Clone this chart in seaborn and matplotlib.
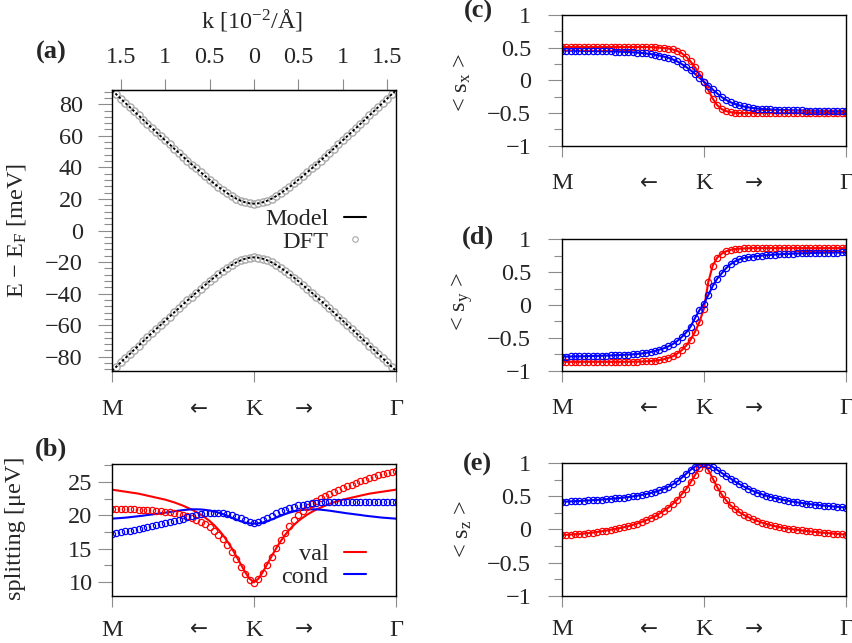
import numpy as np
import matplotlib.pyplot as plt
import seaborn as sns
from matplotlib.ticker import MultipleLocator, NullLocator, FuncFormatter
from matplotlib.lines import Line2D

sns.set_style("ticks")
plt.rcParams['font.family'] = ['Liberation Serif', 'DejaVu Serif']
plt.rcParams['mathtext.fontset'] = 'custom'
plt.rcParams['mathtext.rm'] = 'Liberation Serif'
plt.rcParams['mathtext.it'] = 'Liberation Serif:italic'
plt.rcParams['mathtext.bf'] = 'Liberation Serif:bold'
FS = 17.5
plt.rcParams['font.size'] = FS

# k path M <- K -> Gamma, in 10^-2 / A
k = np.round(np.linspace(-1.6, 1.6, 65), 3)

# (a) band energies [meV]
E_cond = [88.8, 86.2, 83.5, 80.8, 78.2, 75.5, 72.9, 70.2, 67.6, 64.9, 62.3, 59.7, 57.1, 54.5, 51.9, 49.4,
          46.8, 44.3, 41.8, 39.3, 36.9, 34.5, 32.1, 29.8, 27.6, 25.6, 23.6, 21.8, 20.2, 18.9, 17.9, 17.2,
          17.0,
          17.2, 17.9, 18.9, 20.2, 21.8, 23.6, 25.6, 27.6, 29.8, 32.1, 34.5, 36.9, 39.3, 41.8, 44.3, 46.8,
          49.4, 51.9, 54.5, 57.1, 59.7, 62.3, 64.9, 67.6, 70.2, 72.9, 75.5, 78.2, 80.8, 83.5, 86.2, 88.8]
E_val = [-88.8, -86.2, -83.5, -80.8, -78.2, -75.5, -72.9, -70.2, -67.6, -64.9, -62.3, -59.7, -57.1, -54.5,
         -51.9, -49.4, -46.8, -44.3, -41.8, -39.3, -36.9, -34.5, -32.1, -29.8, -27.6, -25.6, -23.6, -21.8,
         -20.2, -18.9, -17.9, -17.2, -17.0,
         -17.2, -17.9, -18.9, -20.2, -21.8, -23.6, -25.6, -27.6, -29.8, -32.1, -34.5, -36.9, -39.3, -41.8,
         -44.3, -46.8, -49.4, -51.9, -54.5, -57.1, -59.7, -62.3, -64.9, -67.6, -70.2, -72.9, -75.5, -78.2,
         -80.8, -83.5, -86.2, -88.8]

# (b) splitting [ueV]
split_val_model = [23.85, 23.75, 23.65, 23.55, 23.45, 23.35, 23.25, 23.1, 22.95, 22.8, 22.65, 22.5, 22.35,
                   22.15, 21.95, 21.7, 21.45, 21.15, 20.85, 20.5, 20.1, 19.65, 19.15, 18.55, 17.85, 17.05,
                   16.1, 15.05, 13.9, 12.7, 11.5, 10.5, 9.95,
                   10.5, 11.5, 12.7, 13.9, 15.05, 16.1, 17.05, 17.85, 18.55, 19.15, 19.65, 20.1, 20.5, 20.85,
                   21.15, 21.45, 21.7, 21.95, 22.15, 22.35, 22.5, 22.65, 22.8, 22.95, 23.1, 23.25, 23.35,
                   23.45, 23.55, 23.65, 23.75, 23.85]
split_cond_model = [19.5, 19.55, 19.6, 19.65, 19.72, 19.8, 19.87, 19.95, 20.05, 20.13, 20.22, 20.3, 20.4,
                    20.5, 20.6, 20.7, 20.78, 20.85, 20.9, 20.9, 20.88, 20.82, 20.72, 20.58, 20.4, 20.18,
                    19.92, 19.65, 19.38, 19.12, 18.92, 18.8, 18.75,
                    18.8, 18.92, 19.12, 19.38, 19.65, 19.92, 20.18, 20.4, 20.58, 20.72, 20.82, 20.88, 20.9,
                    20.9, 20.85, 20.78, 20.7, 20.6, 20.5, 20.4, 20.3, 20.22, 20.13, 20.05, 19.95, 19.87,
                    19.8, 19.72, 19.65, 19.6, 19.55, 19.5]
split_val_dft = [21.0, 21.0, 20.95, 20.95, 20.9, 20.9, 20.85, 20.85, 20.8, 20.75, 20.7, 20.65, 20.55, 20.45,
                 20.35, 20.2, 20.05, 19.85, 19.6, 19.35, 19.0, 18.65, 18.2, 17.7, 17.1, 16.4, 15.5, 14.5,
                 13.4, 12.3, 11.2, 10.3, 9.9, 10.4, 11.4, 12.6, 13.8, 15.1, 16.3, 17.4, 18.4, 19.3, 20.05,
                 20.7, 21.25, 21.75, 22.15, 22.55, 22.9, 23.2, 23.5, 23.8, 24.1, 24.35, 24.6, 24.85, 25.1,
                 25.35, 25.6, 25.8, 26.0, 26.2, 26.4, 26.55, 26.7]
split_cond_dft = [17.15, 17.3, 17.45, 17.6, 17.72, 17.85, 17.97, 18.1, 18.25, 18.4, 18.55, 18.7, 18.85, 19.0,
                  19.15, 19.35, 19.5, 19.7, 19.85, 20.0, 20.15, 20.3, 20.38, 20.42, 20.4, 20.32, 20.2,
                  20.02, 19.8, 19.55, 19.25, 18.95, 18.8, 18.95, 19.25, 19.6, 19.95, 20.3, 20.6, 20.85,
                  21.1, 21.3, 21.48, 21.62, 21.75, 21.85, 21.92, 21.97, 22.0, 22.0, 22.0, 22.01, 22.01,
                  22.01, 22.02, 22.02, 22.02, 22.02, 22.02, 22.02, 22.02, 22.02, 22.02, 22.02, 22.02]

# (c) <s_x>
sx_val = [0.51, 0.51, 0.51, 0.51, 0.51, 0.51, 0.51, 0.51, 0.51, 0.51, 0.51, 0.51, 0.51, 0.51, 0.51, 0.51,
          0.51, 0.51, 0.51, 0.51, 0.508, 0.505, 0.5, 0.495, 0.487, 0.473, 0.45, 0.415, 0.36, 0.29, 0.2,
          0.1, -0.02, -0.15, -0.28, -0.38, -0.44, -0.47, -0.487, -0.495, -0.5, -0.5, -0.5, -0.5, -0.5,
          -0.5, -0.5, -0.5, -0.5, -0.5, -0.5, -0.5, -0.5, -0.5, -0.5, -0.5, -0.5, -0.5, -0.5, -0.5, -0.5,
          -0.5, -0.5, -0.5, -0.5]
sx_cond = [0.455, 0.455, 0.454, 0.453, 0.452, 0.45, 0.449, 0.448, 0.447, 0.446, 0.445, 0.443, 0.441, 0.439,
           0.436, 0.433, 0.429, 0.424, 0.418, 0.411, 0.402, 0.392, 0.38, 0.364, 0.345, 0.32, 0.29, 0.25,
           0.205, 0.155, 0.1, 0.04, -0.02, -0.08, -0.14, -0.2, -0.255, -0.3, -0.335, -0.362, -0.383, -0.4,
           -0.413, -0.423, -0.431, -0.437, -0.442, -0.446, -0.449, -0.452, -0.454, -0.456, -0.458, -0.46,
           -0.461, -0.462, -0.463, -0.464, -0.465, -0.466, -0.467, -0.468, -0.468, -0.469, -0.47]

# (d) <s_y>
sy_val = [-0.865, -0.865, -0.865, -0.865, -0.865, -0.865, -0.865, -0.865, -0.865, -0.865, -0.865, -0.865,
          -0.865, -0.865, -0.865, -0.864, -0.863, -0.862, -0.86, -0.857, -0.853, -0.847, -0.838, -0.825,
          -0.805, -0.78, -0.74, -0.69, -0.62, -0.53, -0.41, -0.26, -0.06, 0.35, 0.6, 0.72, 0.78, 0.818,
          0.84, 0.852, 0.858, 0.862, 0.864, 0.866, 0.866, 0.866, 0.866, 0.866, 0.866, 0.866, 0.866, 0.866,
          0.866, 0.866, 0.866, 0.866, 0.866, 0.866, 0.866, 0.866, 0.866, 0.866, 0.866, 0.866, 0.866]
sy_cond = [-0.785, -0.784, -0.783, -0.782, -0.781, -0.78, -0.778, -0.776, -0.774, -0.772, -0.77, -0.767,
           -0.764, -0.761, -0.758, -0.755, -0.75, -0.745, -0.738, -0.728, -0.716, -0.7, -0.68, -0.658,
           -0.63, -0.595, -0.548, -0.49, -0.42, -0.33, -0.2, -0.08, 0.02, 0.15, 0.29, 0.4, 0.48, 0.56, 0.62,
           0.665, 0.695, 0.715, 0.728, 0.738, 0.745, 0.752, 0.758, 0.763, 0.768, 0.772, 0.776, 0.779,
           0.782, 0.785, 0.787, 0.789, 0.791, 0.793, 0.795, 0.796, 0.797, 0.798, 0.799, 0.8, 0.8]

# (e) <s_z>
sz_val = [-0.083, -0.08, -0.076, -0.072, -0.067, -0.061, -0.054, -0.046, -0.037, -0.027, -0.016, -0.004,
          0.008, 0.02, 0.034, 0.05, 0.07, 0.09, 0.115, 0.14, 0.17, 0.2, 0.24, 0.28, 0.33, 0.385, 0.45, 0.53,
          0.61, 0.71, 0.82, 0.93, 0.99, 0.9, 0.77, 0.64, 0.53, 0.44, 0.365, 0.31, 0.26, 0.22, 0.185, 0.155,
          0.13, 0.105, 0.085, 0.066, 0.05, 0.036, 0.024, 0.013, 0.003, -0.006, -0.014, -0.022, -0.03,
          -0.037, -0.043, -0.049, -0.055, -0.061, -0.067, -0.072, -0.076]
sz_cond = [0.42, 0.422, 0.425, 0.428, 0.431, 0.435, 0.439, 0.443, 0.447, 0.452, 0.457, 0.463, 0.469, 0.476,
           0.483, 0.49, 0.5, 0.51, 0.522, 0.535, 0.55, 0.568, 0.59, 0.615, 0.645, 0.68, 0.725, 0.78, 0.84,
           0.9, 0.95, 0.985, 1.0, 0.98, 0.945, 0.9, 0.855, 0.81, 0.77, 0.725, 0.685, 0.65, 0.615, 0.585,
           0.557, 0.533, 0.512, 0.493, 0.476, 0.46, 0.446, 0.433, 0.421, 0.41, 0.4, 0.391, 0.382, 0.375,
           0.368, 0.361, 0.355, 0.349, 0.343, 0.337, 0.332]

path_ticks = [-1.6, -0.62, 0.0, 0.56, 1.6]
path_labels = ['M', '\u2190', 'K', '\u2192', '\u0393']
top_ticks = [-1.5, -1.0, -0.5, 0.0, 0.5, 1.0, 1.5]
top_labels = ['1.5', '1', '0.5', '0', '0.5', '1', '1.5']

RED = '#ff0000'
BLUE = '#0000ff'
GRAY = '#a8a8a8'
TICK = '#8c8c8c'

fig = plt.figure(figsize=(8.53, 6.43), dpi=100)
ax_a = fig.add_axes([0.1313, 0.4230, 0.3329, 0.4370])
ax_b = fig.add_axes([0.1313, 0.0731, 0.3329, 0.2053])
ax_c = fig.add_axes([0.6585, 0.7734, 0.3333, 0.2033])
ax_d = fig.add_axes([0.6585, 0.4235, 0.3333, 0.2043])
ax_e = fig.add_axes([0.6585, 0.0736, 0.3333, 0.2059])

fmt = FuncFormatter(lambda v, p: ('%g' % (round(v, 6) + 0.0)).replace('-', '\u2212'))


def style(ax, ylim, major, minor, ypad, xpad=12):
    ax.set_xlim(-1.6, 1.6)
    ax.set_ylim(*ylim)
    ax.yaxis.set_major_locator(MultipleLocator(major))
    ax.yaxis.set_minor_locator(MultipleLocator(minor))
    ax.yaxis.set_major_formatter(fmt)
    ax.set_xticks(path_ticks)
    ax.set_xticklabels(path_labels)
    ax.xaxis.set_minor_locator(NullLocator())
    ax.tick_params(axis='both', which='both', direction='out', color=TICK, width=0.8,
                   top=False, right=False, labelsize=FS)
    ax.tick_params(axis='y', which='major', length=10, pad=ypad)
    ax.tick_params(axis='y', which='minor', length=5.8)
    ax.tick_params(axis='x', which='major', length=8, pad=xpad)
    for i in [1, 3]:
        t = ax.xaxis.get_major_ticks()[i]
        t.tick1line.set_visible(False)
        t.label1.set_fontfamily('DejaVu Sans')
        t.label1.set_fontsize(FS - 2)
    for s in ax.spines.values():
        s.set_visible(True)
        s.set_linewidth(1.0)
        s.set_color('black')
    ax.set_xlabel('')
    ax.set_ylabel('')


legend_kw = dict(loc='center right', bbox_transform=fig.transFigure, markerfirst=False, frameon=False,
                 borderpad=0, borderaxespad=0, handlelength=0.9, handletextpad=0.65, labelspacing=0.03,
                 fontsize=FS)

# (a) bands: DFT as grey rings, model as black line seen through them
for E in [E_cond, E_val]:
    sns.lineplot(x=k, y=E, ax=ax_a, marker='o', linestyle='', ms=5.2, mec=GRAY, mfc='white',
                 mew=1.0, color=GRAY, zorder=2)
    sns.lineplot(x=k, y=E, ax=ax_a, color='black', lw=1.4, linestyle=(0, (1.3, 1.1)), zorder=3)
style(ax_a, (-89, 89), 20, 4, 11)
h_a = [Line2D([], [], color='black', lw=1.5),
       Line2D([], [], marker='o', ls='', ms=4, mec=GRAY, mfc='none', mew=0.8)]
ax_a.legend(h_a, ['Model', 'DFT'], bbox_to_anchor=(366 / 853, 1 - 230.5 / 643), **legend_kw)

top = ax_a.secondary_xaxis('top')
top.set_xticks(top_ticks)
top.set_xticklabels(top_labels)
top.xaxis.set_minor_locator(NullLocator())
top.tick_params(direction='out', length=8, color=TICK, width=0.8, pad=8, labelsize=FS)

# (b) splitting
sns.lineplot(x=k, y=split_val_model, ax=ax_b, color=RED, lw=1.5)
sns.lineplot(x=k, y=split_cond_model, ax=ax_b, color=BLUE, lw=1.5)
sns.lineplot(x=k, y=split_val_dft, ax=ax_b, marker='o', linestyle='', ms=4.5, mec=RED, mfc='none',
             mew=0.9, color=RED)
sns.lineplot(x=k, y=split_cond_dft, ax=ax_b, marker='o', linestyle='', ms=4.5, mec=BLUE, mfc='none',
             mew=0.9, color=BLUE)
style(ax_b, (7.9, 27.7), 5, 2.5, 4, xpad=9)
h_b = [Line2D([], [], color=RED, lw=1.5), Line2D([], [], color=BLUE, lw=1.5)]
ax_b.legend(h_b, ['val', 'cond'], bbox_to_anchor=(366 / 853, 1 - 565.5 / 643), **legend_kw)

# (c)-(e) spin expectation values
for ax, val, cond in [(ax_c, sx_val, sx_cond), (ax_d, sy_val, sy_cond), (ax_e, sz_val, sz_cond)]:
    sns.lineplot(x=k, y=val, ax=ax, color=RED, lw=1.5)
    sns.lineplot(x=k, y=cond, ax=ax, color=BLUE, lw=1.5)
    sns.lineplot(x=k, y=val, ax=ax, marker='o', linestyle='', ms=4.5, mec=RED, mfc='none',
                 mew=0.9, color=RED)
    sns.lineplot(x=k, y=cond, ax=ax, marker='o', linestyle='', ms=4.5, mec=BLUE, mfc='none',
                 mew=0.9, color=BLUE)
    style(ax, (-1, 1), 0.5, 0.25, 12, xpad=9 if ax is ax_e else 12)

W, H = 853, 643
fig.text(252 / W, 1 - 20 / H, r'k [10$^{-2}$/Å]', ha='center', va='center', fontsize=FS)
fig.text(17 / W, 1 - 230 / H, r'E $-$ E$_\mathrm{F}$ [meV]', rotation=90, ha='center', va='center', fontsize=FS)
fig.text(16 / W, 1 - 528 / H, 'splitting [\u03bceV]', rotation=90, ha='center', va='center', fontsize=FS)
fig.text(462 / W, 1 - 82 / H, r'< s$_\mathrm{x}$ >', rotation=90, ha='center', va='center', fontsize=FS)
fig.text(462 / W, 1 - 301 / H, r'< s$_\mathrm{y}$ >', rotation=90, ha='center', va='center', fontsize=FS)
fig.text(463 / W, 1 - 529 / H, r'< s$_\mathrm{z}$ >', rotation=90, ha='center', va='center', fontsize=FS)

for lab, x, y in [('(a)', 51, 52), ('(b)', 51, 449), ('(c)', 478, 11), ('(d)', 478, 237), ('(e)', 477, 464)]:
    fig.text(x / W, 1 - y / H, lab, ha='center', va='center', fontsize=19, fontweight='bold')

fig.savefig('out.png', dpi=100)
